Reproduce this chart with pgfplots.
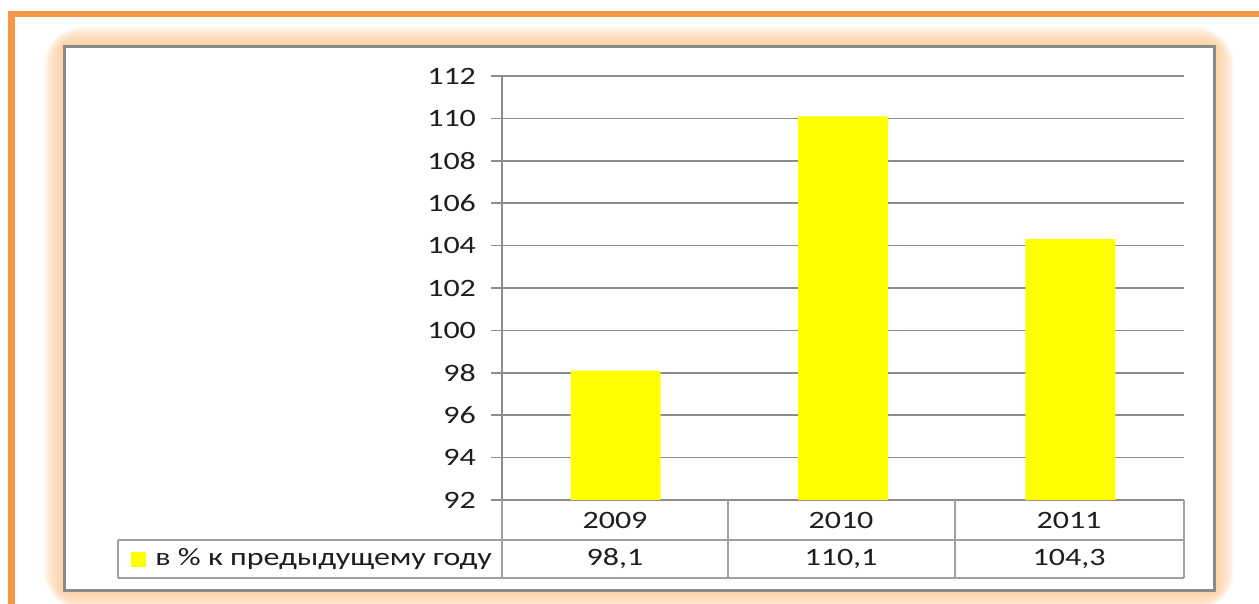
\documentclass[border=0pt]{standalone}
\usepackage{fontspec}
\setmainfont{Carlito}[FakeStretch=1.28]
\usepackage{pgfplots}
\pgfplotsset{compat=1.18}
\definecolor{frameorange}{HTML}{F79646}
\definecolor{glow}{HTML}{FCC48A}
\definecolor{boxgray}{HTML}{8A8A8A}
\definecolor{gridgray}{HTML}{8C8C8C}
\definecolor{tablegray}{HTML}{A0A0A0}
\definecolor{txt}{HTML}{1E1E1E}
\definecolor{baryellow}{HTML}{FFFF00}
\newcommand\cfont{\fontsize{12.5}{15}\selectfont}
\begin{document}
\begin{tikzpicture}
\begin{scope}[x=0.5pt,y=-0.5pt]
\path[use as bounding box] (0,0) rectangle (1259,604);
\foreach \e in {20,18,...,2} {
  \fill[glow, fill opacity=0.13, rounded corners=\e pt] (64-\e,47-\e) rectangle (1214+\e,590+\e);
}
\fill[white] (64,47) rectangle (1214,590);
\draw[boxgray, line width=1.5pt] (64,47) rectangle (1214,590);
\draw[frameorange, line width=3.4pt] (11.5,640) -- (11.5,14) -- (1290,14);
\end{scope}

\begin{axis}[
  at={(251pt,-250pt)}, anchor=south west,
  scale only axis, width=341pt, height=212pt,
  xmin=-0.5, xmax=2.5, ymin=92, ymax=112,
  ytick={92,94,...,112}, xtick=\empty,
  axis x line=none, axis y line*=left,
  axis line style={-, gridgray, line width=0.75pt},
  ymajorgrids, grid style={gridgray, line width=0.75pt},
  major tick length=5.5pt, tick align=outside,
  tick style={gridgray, line width=0.75pt},
  yticklabel style={font=\cfont, text=txt, xshift=-4pt},
  /pgf/number format/assume math mode=true,
]
\addplot[ybar, bar width=45pt, fill=baryellow, draw=none] coordinates {(0,98.1) (1,110.1) (2,104.3)};
\end{axis}

\begin{scope}[x=0.5pt,y=-0.5pt]
\draw[tablegray, line width=0.6pt] (118,540) -- (1184,540);
\draw[tablegray, line width=0.6pt] (118,578) -- (1184,578);
\draw[tablegray, line width=0.6pt] (118,540) -- (118,578);
\draw[tablegray, line width=0.6pt] (502,500) -- (502,578);
\draw[tablegray, line width=0.6pt] (728,500) -- (728,578);
\draw[tablegray, line width=0.6pt] (955,500) -- (955,578);
\draw[tablegray, line width=0.6pt] (1184,500) -- (1184,578);
\node[font=\cfont, text=txt] at (615,520) {2009};
\node[font=\cfont, text=txt] at (841,520) {2010};
\node[font=\cfont, text=txt] at (1069,520) {2011};
\node[font=\cfont, text=txt] at (615,559) {98,1};
\node[font=\cfont, text=txt] at (841,559) {110,1};
\node[font=\cfont, text=txt] at (1069,559) {104,3};
\fill[baryellow] (131,552) rectangle (146,567);
\node[font=\cfont, text=txt, anchor=west, inner sep=0pt] at (155,559) {в \% к предыдущему году};
\end{scope}
\end{tikzpicture}
\end{document}
